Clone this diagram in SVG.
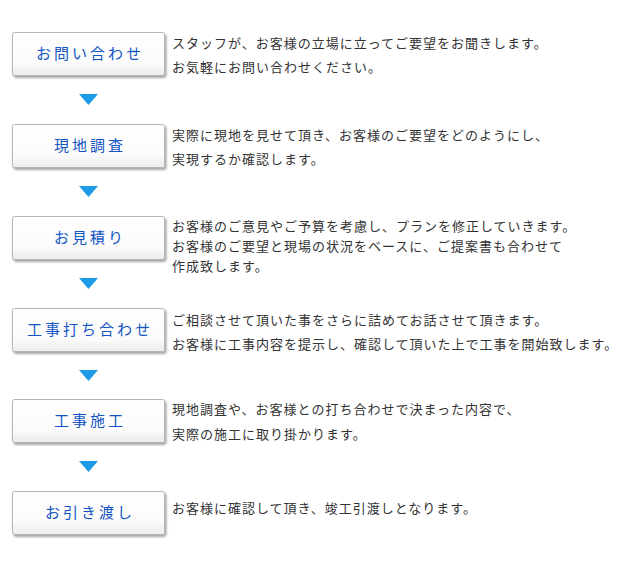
<svg xmlns="http://www.w3.org/2000/svg" width="619" height="566" viewBox="0 0 619 566">
<defs>
<linearGradient id="g" x1="0" y1="0" x2="0" y2="1"><stop offset="0" stop-color="#ffffff"/><stop offset="0.7" stop-color="#fbfbfb"/><stop offset="1" stop-color="#ececec"/></linearGradient>
<filter id="sh" x="-10%" y="-20%" width="130%" height="160%"><feDropShadow dx="1.5" dy="2" stdDeviation="1.2" flood-color="#000" flood-opacity="0.35"/></filter>
</defs>
<style>
.box{fill:url(#g);stroke:#b4b4b4;stroke-width:1;filter:url(#sh)}
.lbl{font-family:"Noto Sans CJK JP","Noto Sans CJK SC",sans-serif;font-size:15px;fill:#1455c4;text-anchor:middle;letter-spacing:3px}
.txt{font-family:"Noto Sans CJK JP","Noto Sans CJK SC",sans-serif;font-size:13px;fill:#333;letter-spacing:1px}
.arr{fill:#1e9be6}
</style>
<rect width="619" height="566" fill="#fff"/>
<g id="connectors">
<polygon class="arr" points="79,94 98,94 88.5,105"/>
<polygon class="arr" points="79,186 98,186 88.5,197"/>
<polygon class="arr" points="79,278 98,278 88.5,289"/>
<polygon class="arr" points="79,370 98,370 88.5,381"/>
<polygon class="arr" points="79,461 98,461 88.5,472"/>
</g>
<g id="step1"><rect class="box" x="12.5" y="32.5" width="152" height="43" rx="2"/><text class="lbl" x="90" y="59">お問い合わせ</text>
<text class="txt" x="172" y="48">スタッフが、お客様の立場に立ってご要望をお聞きします。</text><text class="txt" x="172" y="72">お気軽にお問い合わせください。</text></g>
<g id="step2"><rect class="box" x="12.5" y="124.5" width="152" height="43" rx="2"/><text class="lbl" x="90" y="151">現地調査</text>
<text class="txt" x="172" y="140">実際に現地を見せて頂き、お客様のご要望をどのようにし、</text><text class="txt" x="172" y="164">実現するか確認します。</text></g>
<g id="step3"><rect class="box" x="12.5" y="216.5" width="152" height="43" rx="2"/><text class="lbl" x="90" y="243">お見積り</text>
<text class="txt" x="172" y="231">お客様のご意見やご予算を考慮し、プランを修正していきます。</text><text class="txt" x="172" y="251">お客様のご要望と現場の状況をベースに、ご提案書も合わせて</text><text class="txt" x="172" y="271">作成致します。</text></g>
<g id="step4"><rect class="box" x="12.5" y="308.5" width="152" height="43" rx="2"/><text class="lbl" x="90" y="335">工事打ち合わせ</text>
<text class="txt" x="172" y="325">ご相談させて頂いた事をさらに詰めてお話させて頂きます。</text><text class="txt" x="172" y="349">お客様に工事内容を提示し、確認して頂いた上で工事を開始致します。</text></g>
<g id="step5"><rect class="box" x="12.5" y="399.5" width="152" height="43" rx="2"/><text class="lbl" x="90" y="426">工事施工</text>
<text class="txt" x="172" y="414">現地調査や、お客様との打ち合わせで決まった内容で、</text><text class="txt" x="172" y="439">実際の施工に取り掛かります。</text></g>
<g id="step6"><rect class="box" x="12.5" y="491.5" width="152" height="43" rx="2"/><text class="lbl" x="90" y="518">お引き渡し</text>
<text class="txt" x="172" y="513">お客様に確認して頂き、竣工引渡しとなります。</text></g>
</svg>
